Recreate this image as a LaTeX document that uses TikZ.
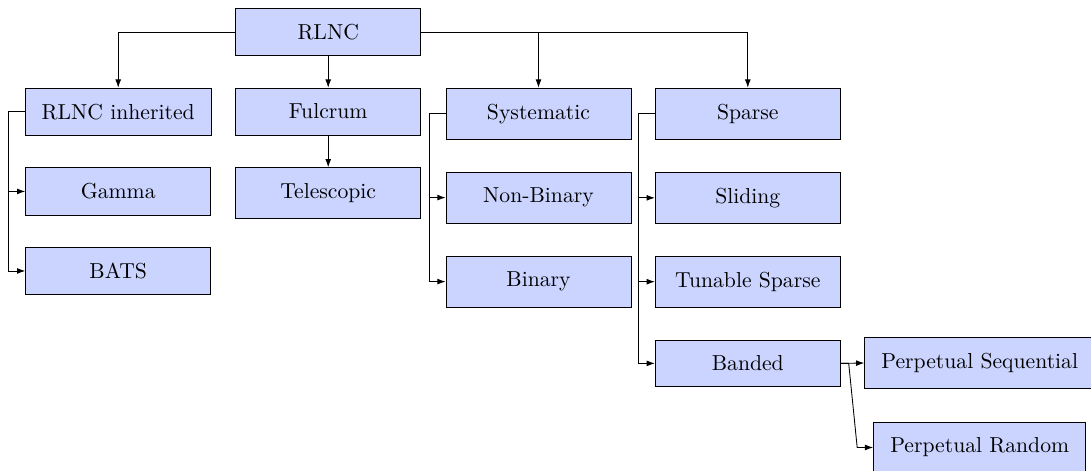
\documentclass[tikz,border=0pt]{standalone}
\usetikzlibrary{calc,arrows.meta}
\definecolor{boxfill}{RGB}{202,212,255}
\begin{document}
\begin{tikzpicture}[x=0.4615pt,y=-0.4615pt,
  box/.style={draw=black, fill=boxfill, line width=0.4pt, rectangle,
    minimum width=3cm, inner xsep=7.7pt, inner ysep=7.3pt, font=\normalsize},
  arr/.style={-{Latex[length=3.8pt,width=2.7pt]}, line width=0.4pt}]
\useasboundingbox (0,0) rectangle (1091,470);

% root
\node[box, anchor=north] (rlnc) at (328.2,8) {RLNC};

% first level
\node[box, anchor=north] (inh) at (118.2,87.7) {RLNC inherited};
\node[box, anchor=north] (ful) at (328.2,87.7) {Fulcrum};
\node[box, anchor=north] (sys) at (538.5,87.7) {Systematic};
\node[box, anchor=north] (spa) at (747.8,87.7) {Sparse};

% second level
\node[box, anchor=north] (gam) at (118.2,167.3) {Gamma};
\node[box, anchor=north] (bats) at (118.2,246.7) {BATS};
\node[box, anchor=north] (tel) at (328.2,167.3) {Telescopic};
\node[box, anchor=north] (nbin) at (538.5,171.7) {Non-Binary};
\node[box, anchor=north] (bin) at (538.5,255.7) {Binary};
\node[box, anchor=north] (sli) at (747.8,171.7) {Sliding};
\node[box, anchor=north] (tun) at (747.8,255.7) {Tunable Sparse};
\node[box, anchor=north] (ban) at (747.8,339.5) {Banded};

% third level
\node[box, anchor=west] (seq) at (864.3,363) {Perpetual Sequential};
\node[box, anchor=north] (ran) at ($(seq.south)+(0,32.6)$) {Perpetual Random};

% root connectors
\draw[arr] (rlnc.west) -| (inh.north);
\draw[arr] (rlnc.south) -- (ful.north);
\draw[arr] (rlnc.east) -| (spa.north);
\draw[arr] (sys.north |- rlnc.east) -- (sys.north);

% RLNC inherited
\draw[arr] (inh.west) -- ++(-16.3,0) |- (gam.west);
\draw[arr] (inh.west) -- ++(-16.3,0) |- (bats.west);

% Fulcrum
\draw[arr] (ful.south) -- (tel.north);

% Systematic
\draw[arr] (sys.west) -- ++(-16.3,0) |- (nbin.west);
\draw[arr] (sys.west) -- ++(-16.3,0) |- (bin.west);

% Sparse
\draw[arr] (spa.west) -- ++(-16.3,0) |- (sli.west);
\draw[arr] (spa.west) -- ++(-16.3,0) |- (tun.west);
\draw[arr] (spa.west) -- ++(-16.3,0) |- (ban.west);

% Banded
\draw[arr] (ban.east) -- (seq.west);
\draw[arr] (ban.east) -- ++(8,0) -- ($(ran.west)+(-16,0)$) -- (ran.west);
\end{tikzpicture}
\end{document}
